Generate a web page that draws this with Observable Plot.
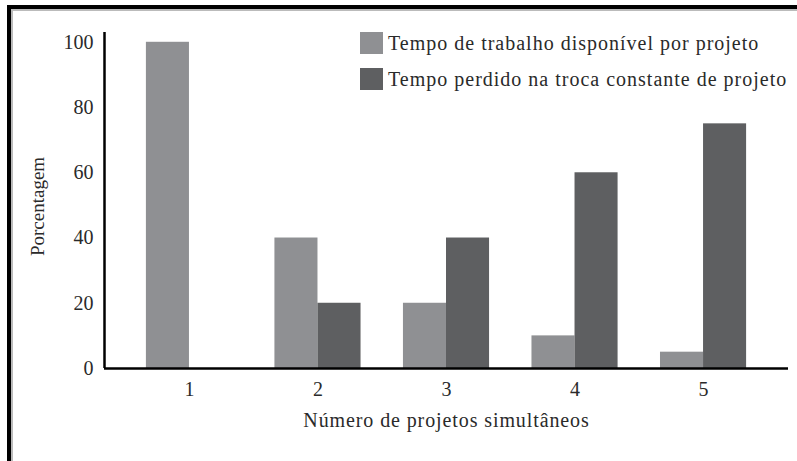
<!DOCTYPE html>
<html>
<head>
<meta charset="utf-8">
<script src="https://cdn.jsdelivr.net/npm/d3@7"></script>
<script src="https://cdn.jsdelivr.net/npm/@observablehq/plot@0.6"></script>
<style>
  html, body { margin: 0; padding: 0; background: #fff; }
  #wrap { position: relative; width: 797px; height: 461px; overflow: hidden; background: #fff; }
  #border { position: absolute; left: 7px; top: 5px; width: 800px; height: 470px;
            border-left: 4px solid #000; border-top: 4px solid #000; box-sizing: border-box; }
  #inner { position: absolute; left: 11px; top: 9px; width: 800px; height: 470px;
           border-left: 2px solid #bbb; border-top: 2px solid #bbb; box-sizing: border-box; }
  #chart { position: absolute; left: 0; top: 0; }
  #legend { position: absolute; left: 360px; top: 32px; font-family: "Liberation Serif", serif;
            font-size: 20px; letter-spacing: 1px; color: #2a2a2a; }
  .row { display: flex; align-items: center; height: 22px; margin-bottom: 14px; white-space: nowrap; }
  .sw { width: 23px; height: 22px; margin-right: 5px; flex: none; }
</style>
</head>
<body>
<div id="wrap">
  <div id="border"></div>
  <div id="inner"></div>
  <div id="chart"></div>
  <div id="legend"></div>
</div>
<script>
const groups = [1, 2, 3, 4, 5];
const seriesNames = [
  "Tempo de trabalho disponível por projeto",
  "Tempo perdido na troca constante de projeto"
];
const available = [100, 40, 20, 10, 5];
const lost = [0, 20, 40, 60, 75];
const colors = ["#8f9093", "#5e5f61"];
const yTicks = [0, 20, 40, 60, 80, 100];
const xLabel = "Número de projetos simultâneos";
const yLabel = "Porcentagem";

const halfWidth = 0.335;
const xDomain = [0.339, 5.661];
const yDomain = [0, 103];

const rows = [];
groups.forEach((g, i) => {
  rows.push({group: g, series: seriesNames[0], value: available[i], side: 0});
  rows.push({group: g, series: seriesNames[1], value: lost[i], side: 1});
});

const chart = Plot.plot({
  width: 797,
  height: 461,
  marginLeft: 104,
  marginRight: 9,
  marginTop: 32,
  marginBottom: 93,
  style: {fontFamily: "Liberation Serif, serif", fontSize: "20px", color: "#2a2a2a", background: "transparent"},
  x: {
    type: "linear",
    domain: xDomain,
    ticks: groups,
    tickFormat: d => String(d),
    tickSize: 0,
    tickPadding: 13,
    label: null
  },
  y: {
    domain: yDomain,
    ticks: yTicks,
    tickSize: 0,
    tickPadding: 11,
    label: null
  },
  color: {domain: seriesNames, range: colors},
  marks: [
    Plot.rectY(rows, {
      x1: d => d.group - halfWidth + d.side * halfWidth,
      x2: d => d.group + d.side * halfWidth,
      y1: 0,
      y2: "value",
      fill: "series"
    }),
    Plot.ruleY([0], {stroke: "#000", strokeWidth: 2.5}),
    Plot.ruleX([xDomain[0]], {y1: yDomain[0], y2: yDomain[1], stroke: "#000", strokeWidth: 2.5}),
    Plot.text([xLabel], {frameAnchor: "bottom", dy: 58, fontSize: 20, fill: "#2a2a2a"}),
    Plot.text([yLabel], {frameAnchor: "left", textAnchor: "middle", rotate: -90, dx: -67, dy: 6,
      fontSize: 19, fill: "#2a2a2a"})
  ]
});
document.getElementById("chart").appendChild(chart);
chart.querySelectorAll("text").forEach(t => {
  if (t.textContent === xLabel) t.style.letterSpacing = "0.9px";
});

const legend = document.getElementById("legend");
seriesNames.forEach((name, i) => {
  const row = document.createElement("div");
  row.className = "row";
  const sw = document.createElement("div");
  sw.className = "sw";
  sw.style.background = colors[i];
  const label = document.createElement("span");
  label.textContent = name;
  row.appendChild(sw);
  row.appendChild(label);
  legend.appendChild(row);
});
</script>
</body>
</html>
